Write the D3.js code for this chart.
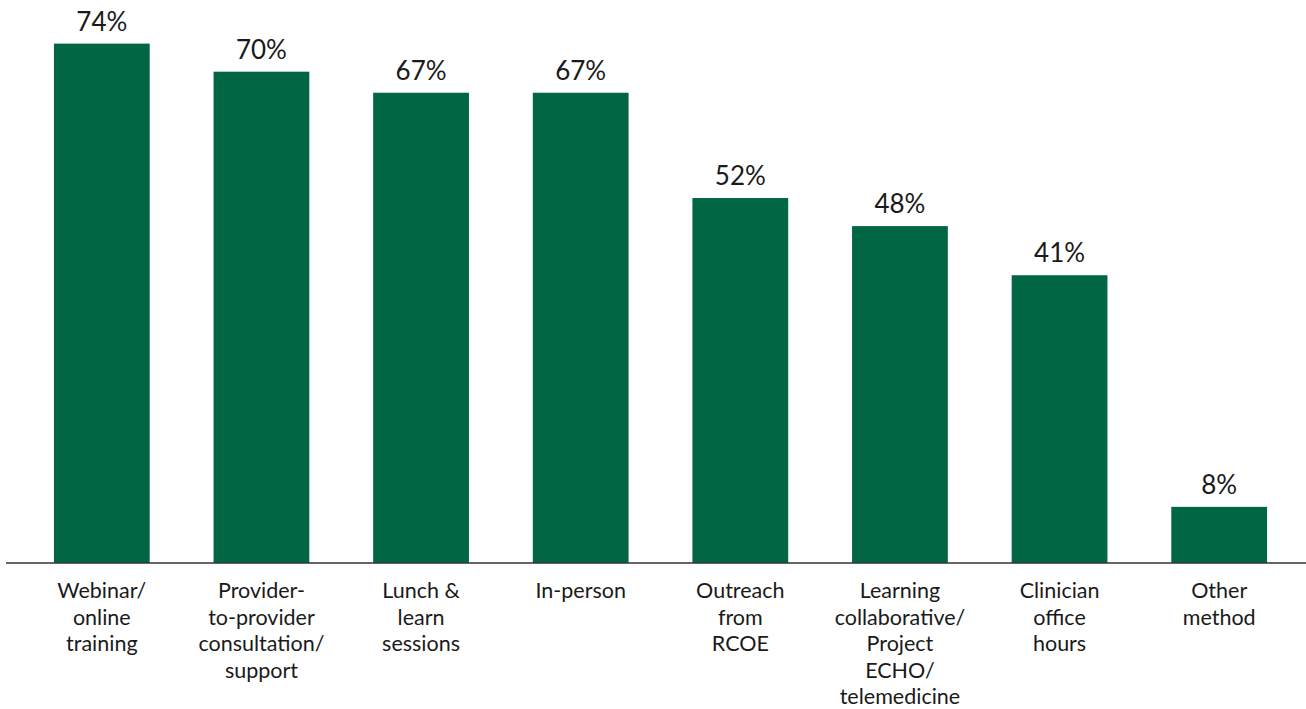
<!DOCTYPE html>
<html>
<head>
<meta charset="utf-8">
<script src="https://cdn.jsdelivr.net/npm/d3@7/dist/d3.min.js"></script>
<style>
  html, body { margin: 0; padding: 0; background: #ffffff; }
  svg { display: block; }
  text { font-family: Lato, "Open Sans", sans-serif; fill: #1a1a1a; }
</style>
</head>
<body>
<svg id="chart" width="1306" height="709"></svg>
<script>
// Training / support methods and share of respondents (%)
const categories = [
  ["Webinar/", "online", "training"],
  ["Provider-", "to-provider", "consultation/", "support"],
  ["Lunch &", "learn", "sessions"],
  ["In-person"],
  ["Outreach", "from", "RCOE"],
  ["Learning", "collaborative/", "Project", "ECHO/", "telemedicine"],
  ["Clinician", "office", "hours"],
  ["Other", "method"]
];
const values = [74, 70, 67, 67, 52, 48, 41, 8];

const svg = d3.select("#chart");
const baseY = 563;

const x = d3.scaleBand()
  .domain(d3.range(categories.length))
  .range([22, 1299])
  .paddingInner(0.4)
  .paddingOuter(0.2);

const y = d3.scaleLinear()
  .domain([0, 80])
  .range([baseY, 1.5]);

const barColor = "#006643";

// Bars
svg.append("g")
  .selectAll("rect")
  .data(values)
  .join("rect")
  .attr("x", (d, i) => x(i))
  .attr("y", d => y(d))
  .attr("width", x.bandwidth())
  .attr("height", d => y(0) - y(d))
  .attr("fill", barColor);

// Value labels
svg.append("g")
  .selectAll("text")
  .data(values)
  .join("text")
  .attr("x", (d, i) => x(i) + x.bandwidth() / 2)
  .attr("y", d => y(d) - 13)
  .attr("text-anchor", "middle")
  .attr("font-size", 26)
  .text(d => d + "%");

// Baseline axis
const xAxis = d3.axisBottom(x).tickSize(0).tickFormat("");
const axisG = svg.append("g")
  .attr("transform", `translate(0,${baseY})`)
  .call(xAxis);
axisG.select(".domain").remove();
axisG.append("line")
  .attr("x1", 6).attr("x2", 1306)
  .attr("stroke", "#333333")
  .attr("stroke-width", 1.5);

// Category labels (multi-line)
const labels = svg.append("g")
  .selectAll("text")
  .data(categories)
  .join("text")
  .attr("text-anchor", "middle")
  .attr("font-size", 21.5)
  .attr("transform", (d, i) => `translate(${x(i) + x.bandwidth() / 2},598)`);

labels.selectAll("tspan")
  .data(d => d)
  .join("tspan")
  .attr("x", 0)
  .attr("y", (d, j) => j * 26.5)
  .text(d => d);
</script>
</body>
</html>
